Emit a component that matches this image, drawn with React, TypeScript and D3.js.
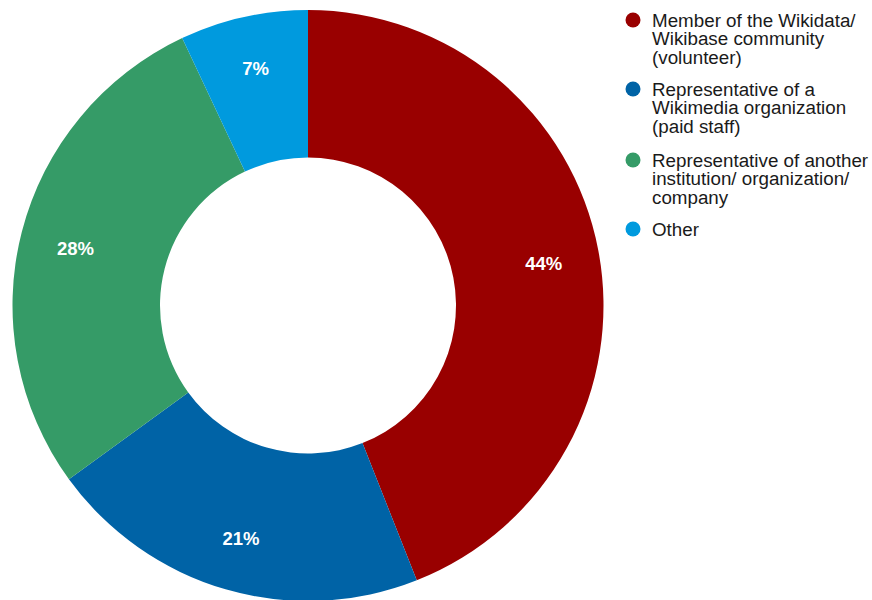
import React from "react";
import * as d3 from "d3";

const categories = [
  "Member of the Wikidata/ Wikibase community (volunteer)",
  "Representative of a Wikimedia organization (paid staff)",
  "Representative of another institution/ organization/ company",
  "Other",
];
const values = [44, 21, 28, 7];
const colors = ["#990000", "#0063A6", "#359B67", "#009ADE"];
const legendLines = [
  ["Member of the Wikidata/", "Wikibase community", "(volunteer)"],
  ["Representative of a", "Wikimedia organization", "(paid staff)"],
  ["Representative of another", "institution/ organization/", "company"],
  ["Other"],
];

export default function App() {
  const W = 872, H = 600;
  const cx = 308, cy = 305.5, rOut = 295.5, rIn = 148;
  const pie = d3.pie<number>().sort(null).value((d) => d);
  const arcs = pie(values);
  const arc = d3.arc<d3.PieArcDatum<number>>().innerRadius(rIn).outerRadius(rOut);
  const labelArc = d3.arc<d3.PieArcDatum<number>>().innerRadius(240).outerRadius(240);
  const font = "'Liberation Sans', Arial, sans-serif";
  const groupY = [20, 89, 160, 229];
  const lineH = 18.7;
  return (
    <svg width={W} height={H} style={{ position: "absolute", left: 0, top: 0 }}>
      <rect width={W} height={H} fill="#fff" />
      <g transform={`translate(${cx},${cy})`}>
        {arcs.map((a, i) => (
          <path key={i} d={arc(a) || ""} fill={colors[i]} />
        ))}
        {arcs.map((a, i) => {
          const [x, y] = labelArc.centroid(a);
          return (
            <text key={i} x={x} y={y + (i === 3 ? -3 : 3)} dy="0.35em" textAnchor="middle" fill="#fff"
              fontFamily={font} fontWeight="bold" fontSize={18.5}>
              {values[i]}%
            </text>
          );
        })}
      </g>
      <g>
        {categories.map((c, i) => (
          <g key={c}>
            <circle cx={633} cy={groupY[i]} r={7.5} fill={colors[i]} />
            {legendLines[i].map((l, j) => (
              <text key={j} x={652} y={groupY[i] + j * lineH} dy="0.35em" fontFamily={font}
                fontSize={18.8} fill="#1a1a1a">
                {l}
              </text>
            ))}
          </g>
        ))}
      </g>
    </svg>
  );
}
